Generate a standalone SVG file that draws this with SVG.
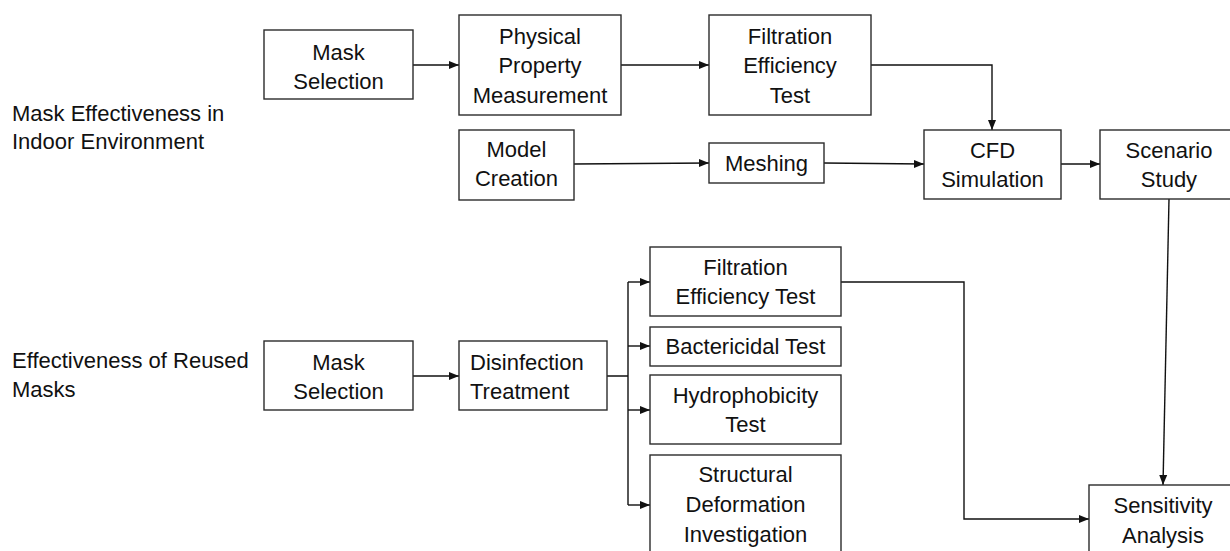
<svg xmlns="http://www.w3.org/2000/svg" width="1230" height="551" viewBox="0 0 1230 551">
<style>
.box{fill:#fff;stroke:#2b2b2b;stroke-width:1.4}
.t{font-family:"Liberation Sans",Arial,sans-serif;font-size:22px;fill:#111;text-anchor:middle}
.l{font-family:"Liberation Sans",Arial,sans-serif;font-size:22px;fill:#111}
.c{fill:none;stroke:#111;stroke-width:1.4}
</style>
<defs>
<marker id="ah" markerUnits="userSpaceOnUse" markerWidth="10" markerHeight="10" viewBox="0 0 10 10" refX="10" refY="5" orient="auto">
<path d="M0,1 L10,5 L0,9 Z" fill="#111"/>
</marker>
</defs>
<rect width="1230" height="551" fill="#fff"/>
<g id="labels">
<text class="l" x="12" y="121">Mask Effectiveness in</text>
<text class="l" x="12" y="149">Indoor Environment</text>
<text class="l" x="12" y="368">Effectiveness of Reused</text>
<text class="l" x="12" y="397">Masks</text>
</g>
<g id="connectors">
<path class="c" d="M413,65 H459" marker-end="url(#ah)"/>
<path class="c" d="M621,65 H709" marker-end="url(#ah)"/>
<path class="c" d="M871,65 H992 V130" marker-end="url(#ah)"/>
<path class="c" d="M574,164 L709,163" marker-end="url(#ah)"/>
<path class="c" d="M824,163 L924,164" marker-end="url(#ah)"/>
<path class="c" d="M1061,164 H1100" marker-end="url(#ah)"/>
<path class="c" d="M1169,199 L1163,485" marker-end="url(#ah)"/>
<path class="c" d="M413,376 H459" marker-end="url(#ah)"/>
<path class="c" d="M607,376 H628 M628,282 V505"/>
<path class="c" d="M628,282 H650" marker-end="url(#ah)"/>
<path class="c" d="M628,346 H650" marker-end="url(#ah)"/>
<path class="c" d="M628,410 H650" marker-end="url(#ah)"/>
<path class="c" d="M628,505 H650" marker-end="url(#ah)"/>
<path class="c" d="M841,282 H964 V519 H1089" marker-end="url(#ah)"/>
</g>
<g id="mask-selection-1">
<rect class="box" x="264" y="30" width="149" height="69"/>
<text class="t" x="338.5" y="60">Mask</text>
<text class="t" x="338.5" y="89">Selection</text>
</g>
<g id="physical-property">
<rect class="box" x="459" y="15" width="162" height="100"/>
<text class="t" x="540" y="44">Physical</text>
<text class="t" x="540" y="73">Property</text>
<text class="t" x="540" y="103">Measurement</text>
</g>
<g id="filtration-1">
<rect class="box" x="709" y="15" width="162" height="100"/>
<text class="t" x="790" y="44">Filtration</text>
<text class="t" x="790" y="73">Efficiency</text>
<text class="t" x="790" y="103">Test</text>
</g>
<g id="model-creation">
<rect class="box" x="459" y="130" width="115" height="70"/>
<text class="t" x="516.5" y="157">Model</text>
<text class="t" x="516.5" y="186">Creation</text>
</g>
<g id="meshing">
<rect class="box" x="709" y="143" width="115" height="40"/>
<text class="t" x="766.5" y="171">Meshing</text>
</g>
<g id="cfd">
<rect class="box" x="924" y="130" width="137" height="69"/>
<text class="t" x="992.5" y="158">CFD</text>
<text class="t" x="992.5" y="187">Simulation</text>
</g>
<g id="scenario">
<rect class="box" x="1100" y="130" width="140" height="69"/>
<text class="t" x="1169" y="158">Scenario</text>
<text class="t" x="1169" y="187">Study</text>
</g>
<g id="mask-selection-2">
<rect class="box" x="264" y="341" width="149" height="69"/>
<text class="t" x="338.5" y="370">Mask</text>
<text class="t" x="338.5" y="399">Selection</text>
</g>
<g id="disinfection">
<rect class="box" x="459" y="341" width="148" height="69"/>
<text class="l" x="470" y="370">Disinfection</text>
<text class="l" x="470" y="399">Treatment</text>
</g>
<g id="filtration-2">
<rect class="box" x="650" y="247" width="191" height="69"/>
<text class="t" x="745.5" y="275">Filtration</text>
<text class="t" x="745.5" y="304">Efficiency Test</text>
</g>
<g id="bactericidal">
<rect class="box" x="650" y="327" width="191" height="39"/>
<text class="t" x="745.5" y="354">Bactericidal Test</text>
</g>
<g id="hydrophobicity">
<rect class="box" x="650" y="375" width="191" height="69"/>
<text class="t" x="745.5" y="403">Hydrophobicity</text>
<text class="t" x="745.5" y="432">Test</text>
</g>
<g id="structural">
<rect class="box" x="650" y="455" width="191" height="110"/>
<text class="t" x="745.5" y="482">Structural</text>
<text class="t" x="745.5" y="512">Deformation</text>
<text class="t" x="745.5" y="542">Investigation</text>
</g>
<g id="sensitivity">
<rect class="box" x="1089" y="485" width="150" height="80"/>
<text class="t" x="1163" y="513">Sensitivity</text>
<text class="t" x="1163" y="543">Analysis</text>
</g>
</svg>
